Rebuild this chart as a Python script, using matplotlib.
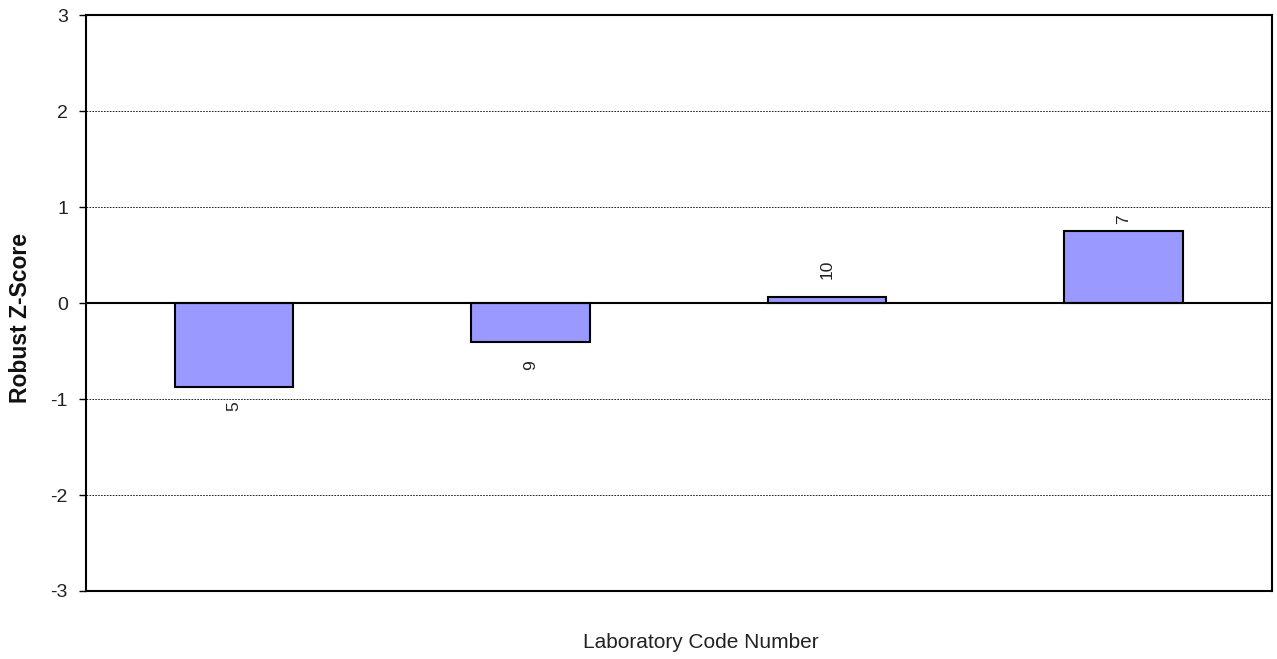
import numpy as np
import matplotlib.pyplot as plt

plt.rcParams['font.family'] = ['Liberation Sans', 'DejaVu Sans']
plt.rcParams['axes.unicode_minus'] = False

lab_codes = ['5', '9', '10', '7']
z_scores = [-0.875, -0.41, 0.06, 0.75]
# gap between bar end and its code label, in points
label_gap = [10, 13, 13.5, 5]

fig = plt.figure(figsize=(12.77, 6.59), dpi=100)
ax = fig.add_axes([0.0673, 0.1032, 0.9287, 0.8738])

x = np.arange(len(lab_codes))
ax.bar(x, z_scores, width=0.4, color='#9999FF', edgecolor='black', linewidth=1.5, zorder=3)

# code number next to the end of each bar, rotated
for xi, z, code, gap in zip(x, z_scores, lab_codes, label_gap):
    if z < 0:
        ax.annotate(code, (xi, z), xytext=(0, -gap), textcoords='offset points',
                    rotation=90, ha='center', va='top', fontsize=12.5, color='#222222')
    else:
        ax.annotate(code, (xi, z), xytext=(0, gap), textcoords='offset points',
                    rotation=90, ha='center', va='bottom', fontsize=12.5, color='#222222')

ax.set_xlim(-0.5, len(lab_codes) - 0.5)
ax.set_ylim(-3, 3)
ax.set_yticks(np.arange(-3, 4, 1))
ax.set_xticks([])
ax.tick_params(axis='y', labelsize=14, length=5, width=1, direction='out', pad=8,
               labelcolor='#222222')

for g in [-2, -1, 1, 2]:
    ax.axhline(g, color='black', linestyle=(0, (2, 1.5)), linewidth=0.6, zorder=1)
ax.axhline(0, color='black', linewidth=1.5, zorder=4)

for s in ax.spines.values():
    s.set_linewidth(1.5)

fig.text(21 / 1277, 1 - 318 / 659, 'Robust Z-Score', rotation=90, ha='center', va='center',
         fontsize=16.5, fontweight='bold', color='#111111')
fig.text(701 / 1277, 1 - 643 / 659, 'Laboratory Code Number', ha='center', va='center',
         fontsize=15, color='#222222')

fig.savefig('out.png', dpi=100)
